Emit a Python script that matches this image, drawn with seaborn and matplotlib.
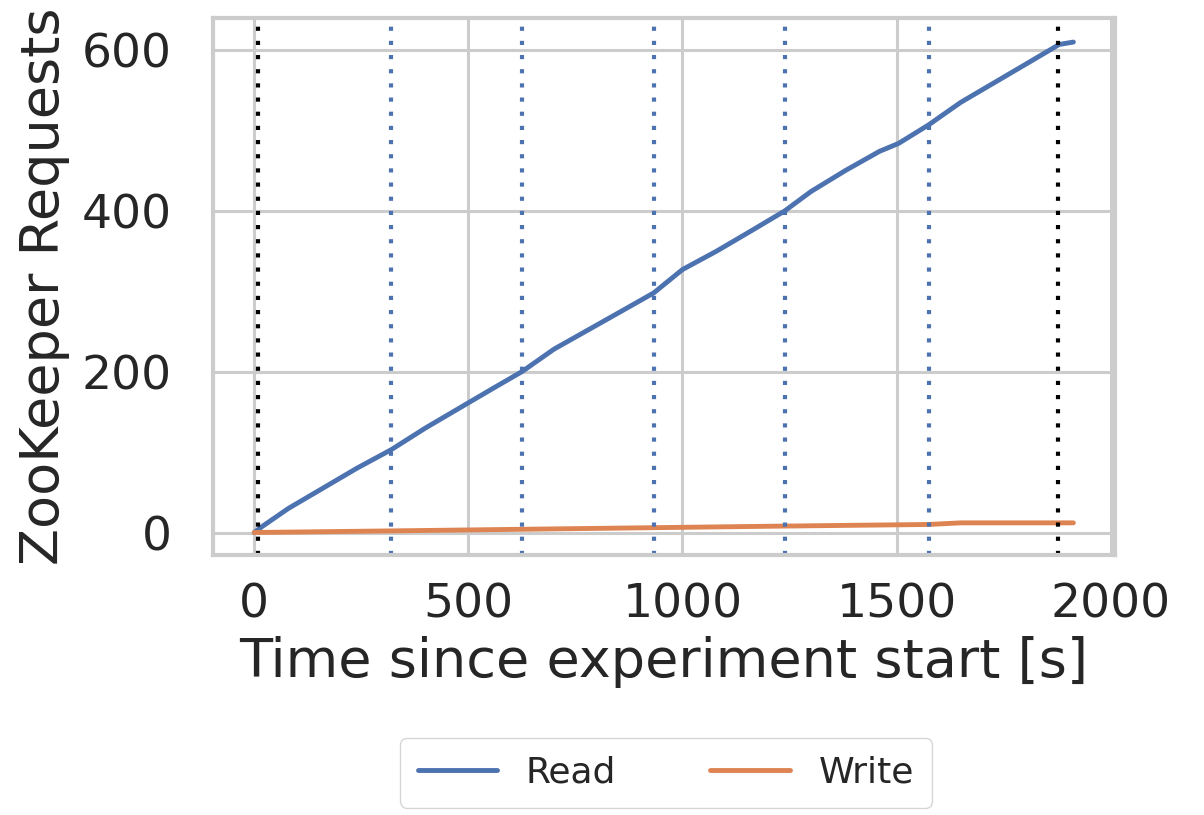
import pandas as pd
import numpy as np
import matplotlib
matplotlib.use("Agg")
import matplotlib.pyplot as plt
import seaborn as sns

# Read requests over time (cumulative)
read_time = [0, 20, 80, 160, 240, 320, 400, 480, 560, 625, 700, 780, 860, 933,
             1000, 1080, 1160, 1239, 1300, 1380, 1460, 1505, 1575, 1650, 1730,
             1810, 1880, 1913]
read_reqs = [0, 8, 30, 55, 80, 103, 130, 155, 180, 200, 228, 252, 276, 298,
             327, 350, 375, 400, 424, 450, 474, 484, 507, 535, 560, 585, 607, 610]

# Write requests over time (cumulative)
write_time = [0, 320, 625, 933, 1239, 1575, 1650, 1913]
write_reqs = [0, 2, 4, 6, 8, 10, 12, 12]

# Markers for experiment phases
bounds = [10, 1878]
phases = [320, 625, 933, 1239, 1575]

df = pd.concat([
    pd.DataFrame({'time': read_time, 'requests': read_reqs, 'type': 'Read'}),
    pd.DataFrame({'time': write_time, 'requests': write_reqs, 'type': 'Write'}),
])

sns.set_theme(style='whitegrid')
plt.rcParams['axes.linewidth'] = 3
plt.rcParams['grid.linewidth'] = 2.2

fig = plt.figure(figsize=(12.04, 8.15), dpi=100)
ax = fig.add_axes([0.177, 0.319, 0.749, 0.659])

sns.lineplot(data=df, x='time', y='requests', hue='type', linewidth=3.5, ax=ax)

dots = (0, (1, 2.4))
for b in bounds:
    ax.axvline(b, color='black', linestyle=dots, linewidth=3)
for p in phases:
    ax.axvline(p, color='#4c72b0', linestyle=dots, linewidth=3)

ax.set_xlim(-96, 2010)
ax.set_ylim(-28, 640)
ax.set_xticks([0, 500, 1000, 1500, 2000])
ax.set_yticks([0, 200, 400, 600])
ax.tick_params(labelsize=34, colors='#262626')
ax.tick_params(axis='x', pad=14)
ax.tick_params(axis='y', pad=24)
ax.set_xlabel('Time since experiment start [s]', fontsize=39, color='#262626',
              labelpad=6)
ax.set_ylabel('ZooKeeper Requests', fontsize=39, color='#262626', labelpad=8)

ax.legend(loc='center', bbox_to_anchor=(0.553, 0.052),
          bbox_transform=fig.transFigure, ncol=2,
          fontsize=26, frameon=True, handlelength=2.2, columnspacing=2.6,
          handletextpad=0.8, borderpad=0.5)
for line in ax.get_legend().get_lines():
    line.set_linewidth(3.5)

fig.savefig('out.png', dpi=100)
